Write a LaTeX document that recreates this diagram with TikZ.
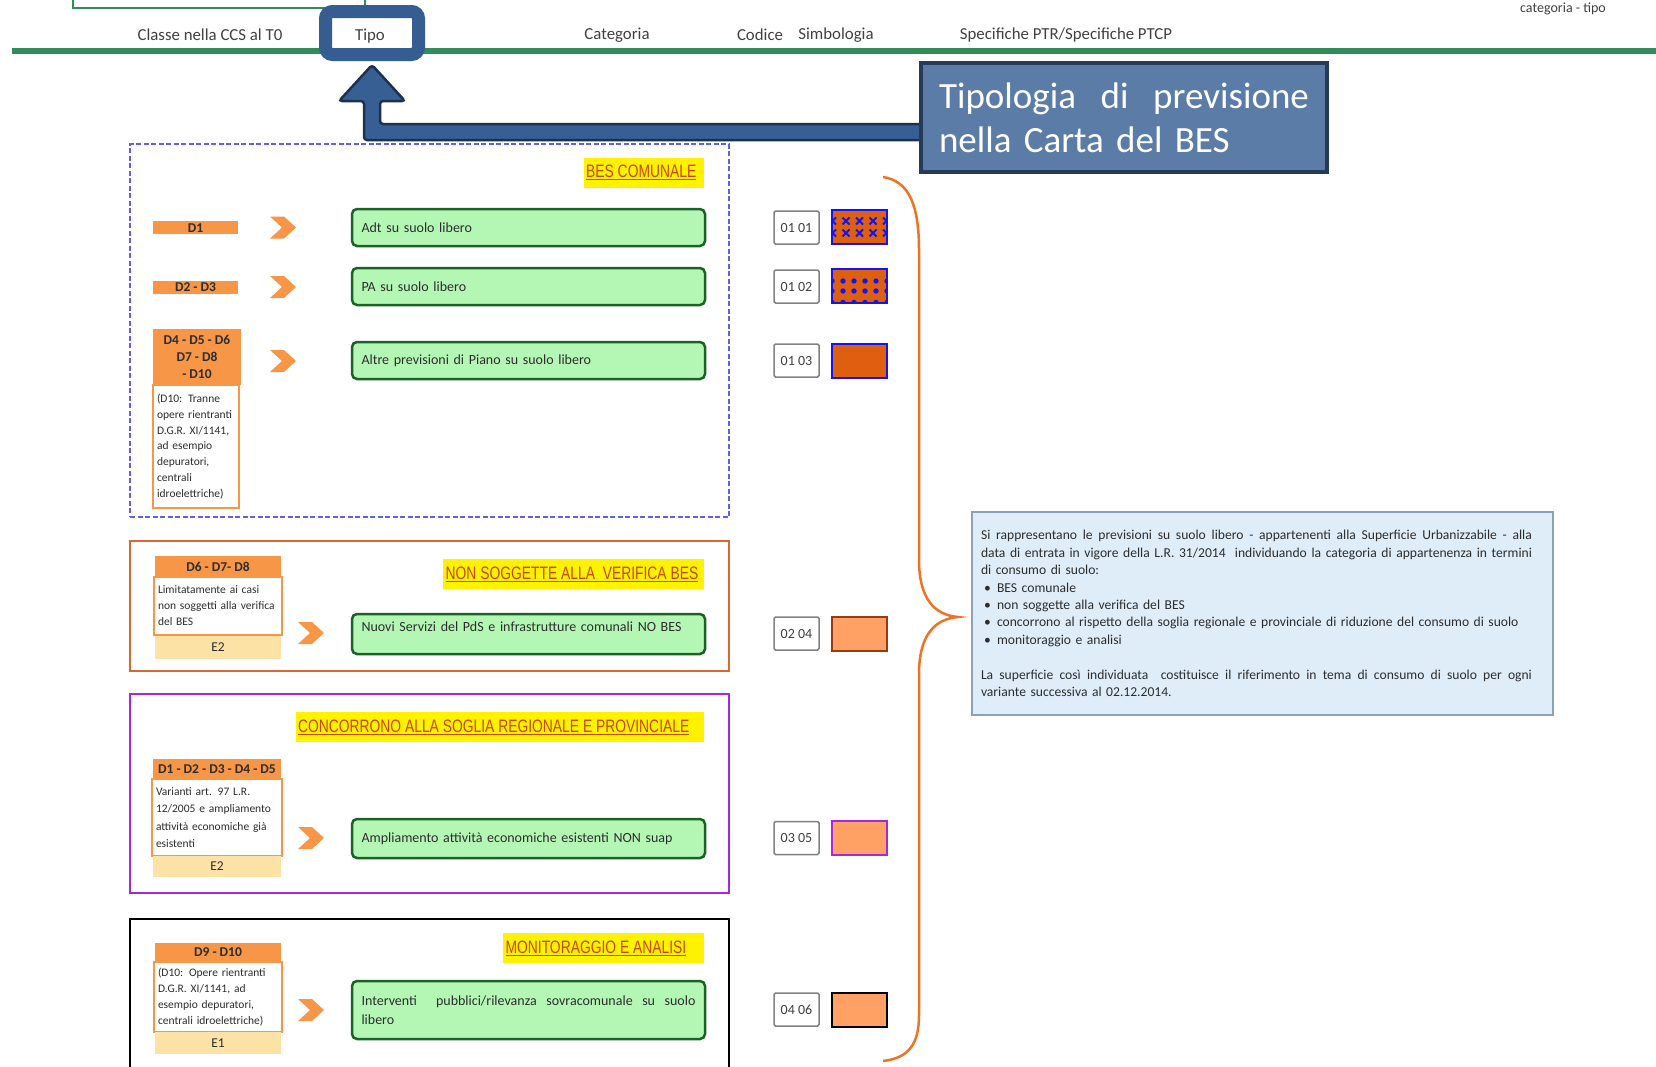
\documentclass[tikz,border=0pt]{standalone}
\usepackage{fontspec}
\setmainfont{Carlito}
\newfontfamily\narrowfont[FakeStretch=0.77]{Liberation Sans}
\usetikzlibrary{calc}
\definecolor{hdrgreen}{RGB}{50,140,90}
\definecolor{hdrtext}{RGB}{64,64,64}
\definecolor{tipoblue}{RGB}{54,93,145}
\definecolor{arrfill}{RGB}{56,95,148}
\definecolor{arrdraw}{RGB}{28,48,80}
\definecolor{callfill}{RGB}{91,124,166}
\definecolor{calldraw}{RGB}{38,58,90}
\definecolor{besblue}{RGB}{95,95,235}
\definecolor{nsorange}{RGB}{214,105,48}
\definecolor{cpurple}{RGB}{165,40,225}
\definecolor{orangeH}{RGB}{247,150,70}
\definecolor{peach}{RGB}{253,226,165}
\definecolor{gfill}{RGB}{180,247,180}
\definecolor{gdraw}{RGB}{28,98,38}
\definecolor{lblred}{RGB}{200,70,10}
\definecolor{symorange}{RGB}{222,95,15}
\definecolor{symblue}{RGB}{20,20,240}
\definecolor{symlight}{RGB}{255,160,100}
\definecolor{symbrown}{RGB}{150,60,20}
\definecolor{infofill}{RGB}{222,237,248}
\definecolor{infodraw}{RGB}{140,160,182}
\definecolor{braceor}{RGB}{240,115,35}
\definecolor{codegrey}{RGB}{130,130,130}
\definecolor{bodytext}{RGB}{45,45,45}
\newcommand{\bul}{\makebox[16pt][l]{\hspace{3pt}\textbullet}}
\newcommand{\jline}[2]{\leavevmode\hbox to #1{\spaceskip=.23em plus 1fill\relax #2}}
\pgfdeclarelayer{back}
\pgfsetlayers{back,main}
\begin{document}
\begin{tikzpicture}[x=1pt,y=-1pt,
  hdr/.style={font=\fontsize{16.8}{19}\selectfont, text=hdrtext, inner sep=0pt},
  tipobox/.style={draw=tipoblue, line width=13pt, rounded corners=7pt, fill=white, minimum width=93pt, minimum height=43pt, inner sep=0pt},
  callout/.style={draw=calldraw, line width=4pt, fill=callfill, text=white, font=\fontsize{37}{44}\selectfont, text width=370pt, align=left, inner xsep=18pt, minimum height=109pt},
  blockarrow/.style={fill=arrfill, draw=arrdraw, line width=2.5pt, rounded corners=3pt},
  zone/.style={inner sep=0pt, minimum width=599pt, line width=2.5pt},
  ylabel/.style={fill=yellow, font=\narrowfont\fontsize{18}{20}\selectfont, text=lblred, inner xsep=2.5pt, inner ysep=0pt, minimum height=30pt, anchor=east},
  dbar/.style={fill=orangeH, font=\bfseries\fontsize{13.5}{15}\selectfont, text=bodytext, inner sep=0pt, minimum width=85pt, minimum height=13pt, text height=9pt, text depth=0pt},
  dhead/.style={fill=orangeH, font=\bfseries\fontsize{13.5}{17}\selectfont, text=bodytext, inner sep=0pt, align=center},
  dbody/.style={draw=orangeH, line width=2pt, fill=white, font=\fontsize{11.5}{15.8}\selectfont, text=bodytext, align=left, inner xsep=4pt, inner ysep=0pt},
  estrip/.style={fill=peach, font=\fontsize{13.5}{16}\selectfont, text=bodytext, inner sep=0pt},
  gbox/.style={draw=gdraw, line width=2.5pt, fill=gfill, rounded corners=5pt, text width=334pt, inner xsep=9.5pt, align=left, font=\fontsize{14}{19.5}\selectfont, text=bodytext},
  codebox/.style={draw=codegrey, line width=1.5pt, fill=white, rounded corners=1.5pt, minimum width=45pt, minimum height=33pt, inner sep=0pt, font=\fontsize{14}{16}\selectfont, text=hdrtext},
  sym/.style={line width=2pt, minimum width=55pt, minimum height=34pt, inner sep=0pt},
  chev/.pic={\fill[orangeH] (-13,-11) -- (1,-11) -- (13,0) -- (1,11) -- (-13,11) -- (-1,0) -- cycle;}
]
\useasboundingbox (0,0) rectangle (1656,1066);
\begin{pgfonlayer}{back}
\fill[white] (0,0) rectangle (1656,1066);
\end{pgfonlayer}

% ---------- header ----------
\node[draw=hdrgreen, line width=2pt, minimum width=292pt, minimum height=60pt, anchor=south west, inner sep=0pt] (topbox) at (72,9) {};
\draw[hdrgreen, line width=6pt] (12,50.5) -- (1656,50.5);
\node[hdr] (h1) at (210,35) {Classe nella CCS al T0};
\node[tipobox] (tipo) at (372,33) {};
\node[hdr] (h2) at (370,36) {Tipo};
\node[hdr] (h3) at (617,35) {Categoria};
\node[hdr] (h4) at (760,35) {Codice};
\node[hdr] (h5) at (836,35) {Simbologia};
\node[hdr] (h6) at (1066,35) {Specifiche PTR/Specifiche PTCP};
\node[hdr, font=\fontsize{14}{16}\selectfont] (h7) at (1563,9) {categoria - tipo};

% ---------- callout + block arrow ----------
\node[callout] (callout) at (1124,117.5) {\jline{370pt}{Tipologia di previsione}\\nella Carta del BES};
\path (tipo.south) ++(0,4) coordinate (apex);
\begin{pgfonlayer}{back}
\draw[blockarrow] let \p1=(apex), \p2=(callout.west) in
  (\x2+12pt,-124pt) -- (\x1+8pt,-124pt) -- (\x1+8pt,\y1-36pt) -- (\x1+33pt,\y1-36pt)
  -- (\x1,\y1) -- (\x1-33pt,\y1-36pt) -- (\x1-8pt,\y1-36pt) -- (\x1-8pt,-140pt)
  -- (\x2+12pt,-140pt) -- cycle;
\end{pgfonlayer}

% ---------- zone 1: BES comunale ----------
\node[zone, draw=besblue, line width=1.5pt, dash pattern=on 5pt off 2.5pt, minimum height=373pt] (bes) at (429.5,330.5) {};
\node[ylabel] (lbes) at (704,172.5) {\underline{BES COMUNALE}\kern5pt};
\node[dbar] (d1) at (195.5,227.5) {D1};
\node[dbar] (d23) at (195.5,287) {D2 - D3};
\node[dbody, minimum width=86pt, minimum height=123pt, text width=78pt] (d4b) at (196,446.5)
  {(D10: Tranne\\opere rientranti\\D.G.R. XI/1141,\\ad esempio\\depuratori,\\centrali\\idroelettriche)};
\node[dhead, minimum width=88pt, minimum height=56pt] (d4h) at (197,357) {D4 - D5 - D6\\D7 - D8\\- D10};
\pic at (283,227.5) {chev};
\pic at (283,287) {chev};
\pic at (283,361) {chev};
\node[gbox, minimum height=37pt] (g1) at (528.5,227.5) {Adt su suolo libero};
\node[gbox, minimum height=37pt] (g2) at (528.5,286.5) {PA su suolo libero};
\node[gbox, minimum height=37pt] (g3) at (528.5,360.5) {Altre previsioni di Piano su suolo libero};
\node[codebox] (c1) at (796.5,227.5) {01 01};
\node[codebox] (c2) at (796.5,286.5) {01 02};
\node[codebox] (c3) at (796.5,360.5) {01 03};
\node[sym, fill=symorange, draw=symblue, path picture={
  \foreach \dx in {-27,-13.5,0,13.5,27} \foreach \dy in {-6,6}
    \draw[symblue, line width=1.9pt] ($(path picture bounding box.center)+(\dx,\dy)$) ++(-3.5,-3.5) -- ++(7,7) ++(-7,0) -- ++(7,-7);
  }] (s1) at (859.5,227) {};
\node[sym, fill=symorange, draw=symblue, path picture={
  \foreach \dx in {-16.5,-5.5,5.5,16.5} \foreach \dy in {-5,5}
    \fill[symblue] ($(path picture bounding box.center)+(\dx,\dy)$) circle[radius=2.7pt];
  \foreach \dx in {-27.5,-16.5,-5.5,5.5,16.5,27.5}
    \fill[symblue] ($(path picture bounding box.center)+(\dx,16.5)$) circle[radius=2.7pt];
  \foreach \dy in {-5,5}
    {\fill[symblue] ($(path picture bounding box.center)+(-27.5,\dy)$) circle[radius=2.7pt];
     \fill[symblue] ($(path picture bounding box.center)+(27.5,\dy)$) circle[radius=2.7pt];}
  }] (s2) at (859.5,286) {};
\node[sym, fill=symorange, draw=symblue] (s3) at (859.5,360.5) {};

% ---------- zone 2: non soggette ----------
\node[zone, draw=nsorange, minimum height=130pt] (ns) at (429.5,606) {};
\node[ylabel] (lns) at (704,574) {\underline{NON SOGGETTE ALLA\ \ VERIFICA BES}\kern3pt};
\node[dbody, minimum width=126pt, minimum height=58pt, text width=120pt, font=\fontsize{11.5}{16}\selectfont] (d6b) at (218,606)
  {Limitatamente ai casi\\non soggetti alla verifica\\del BES};
\node[dhead, minimum width=126pt, minimum height=21pt] (d6h) at (218,566.5) {D6 - D7- D8};
\node[estrip, minimum width=126pt, minimum height=23pt] (e2a) at (218,647) {E2};
\pic at (311,633) {chev};
\node[gbox, minimum height=40pt, text height=9pt, text depth=15pt] (g4) at (528.5,634) {Nuovi Servizi del PdS e infrastrutture comunali NO BES};
\node[codebox] (c4) at (796.5,633.5) {02 04};
\node[sym, fill=symlight, draw=symbrown] (s4) at (859.5,633.5) {};

% ---------- zone 3: concorrono ----------
\node[zone, draw=cpurple, minimum height=199pt] (cc) at (429.5,793.5) {};
\node[ylabel] (lcc) at (704,727) {\underline{CONCORRONO ALLA SOGLIA REGIONALE E PROVINCIALE}\kern12pt};
\node[dbody, minimum width=128pt, minimum height=77pt, text width=122pt, font=\fontsize{11.5}{17.5}\selectfont] (d15b) at (217,817.5)
  {Varianti art. 97 L.R.\\12/2005 e ampliamento\\attività economiche già\\esistenti};
\node[dhead, minimum width=128pt, minimum height=20pt] (d15h) at (217,769) {D1 - D2 - D3 - D4 - D5};
\node[estrip, minimum width=128pt, minimum height=21pt] (e2b) at (217,866.5) {E2};
\pic at (311,838) {chev};
\node[gbox, minimum height=39pt] (g5) at (528.5,838.5) {Ampliamento attività economiche esistenti NON suap};
\node[codebox] (c5) at (796.5,838) {03 05};
\node[sym, fill=symlight, draw=cpurple] (s5) at (859.5,838) {};

% ---------- zone 4: monitoraggio ----------
\node[zone, draw=black, minimum height=161pt] (mon) at (429.5,999.5) {};
\node[ylabel] (lmon) at (704,948) {\underline{MONITORAGGIO E ANALISI}\kern15pt};
\node[dbody, minimum width=126pt, minimum height=70pt, text width=120pt, font=\fontsize{11.5}{16.2}\selectfont] (d9b) at (218,997)
  {(D10: Opere rientranti\\D.G.R. XI/1141, ad\\esempio depuratori,\\centrali idroelettriche)};
\node[dhead, minimum width=126pt, minimum height=19pt] (d9h) at (218,952.5) {D9 - D10};
\node[estrip, minimum width=126pt, minimum height=22pt] (e1) at (218,1043) {E1};
\pic at (311,1010) {chev};
\node[gbox, minimum height=58pt] (g6) at (528.5,1010) {\jline{334pt}{Interventi\ \ pubblici/rilevanza sovracomunale su suolo}\\libero};
\node[codebox] (c6) at (796.5,1009.5) {04 06};
\node[sym, fill=symlight, draw=black] (s6) at (859.5,1010) {};

% ---------- brace ----------
\draw[braceor, line width=2.5pt] (883,177) .. controls (909,181) and (919,205) .. (919,250)
  -- (919,560) .. controls (919,598) and (934,615) .. (958,617)
  .. controls (934,619) and (919,636) .. (919,674)
  -- (919,1015) .. controls (919,1045) and (908,1058) .. (883,1061);

% ---------- info box ----------
\node[fill=infofill, draw=infodraw, line width=1.5pt, text width=563pt, inner xsep=9pt, minimum height=203pt,
      font=\fontsize{13.6}{17.4}\selectfont, align=left, text=bodytext] (info) at (1262.5,613.5)
  {\jline{551pt}{Si rappresentano le previsioni su suolo libero - appartenenti alla Superficie Urbanizzabile - alla}\\
   \jline{551pt}{data di entrata in vigore della L.R. 31/2014\ \ individuando la categoria di appartenenza in termini}\\
   di consumo di suolo:\\
   \bul BES comunale\\
   \bul non soggette alla verifica del BES\\
   \mbox{\bul concorrono al rispetto della soglia regionale e provinciale di riduzione del consumo di suolo}\\
   \bul monitoraggio e analisi\\[17.4pt]
   \jline{551pt}{La superficie così individuata\ \ costituisce il riferimento in tema di consumo di suolo per ogni}\\
   variante successiva al 02.12.2014.};
\end{tikzpicture}
\end{document}
